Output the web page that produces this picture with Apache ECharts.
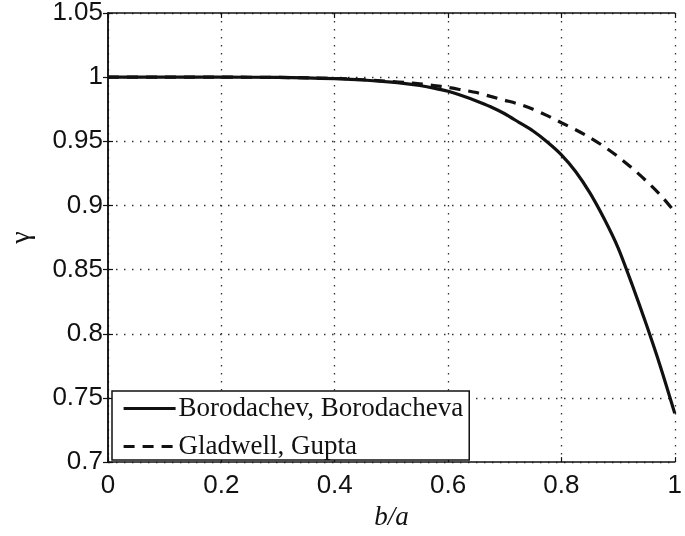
<!DOCTYPE html>
<html>
<head>
<meta charset="utf-8">
<script src="https://cdn.jsdelivr.net/npm/echarts@6/dist/echarts.min.js"></script>
<style>
html,body{margin:0;padding:0;background:#fff;}
#chart{width:685px;height:536px;}
</style>
</head>
<body>
<div id="chart"></div>
<script>
// b/a values
const xs = [0, 0.1, 0.2, 0.3, 0.35, 0.4, 0.45, 0.5, 0.525, 0.55, 0.575, 0.6, 0.625, 0.65, 0.675, 0.7, 0.725, 0.75, 0.775, 0.8, 0.825, 0.85, 0.875, 0.9, 0.925, 0.95, 0.975, 1.0];
// Borodachev, Borodacheva (solid)
const borodachev = [1, 1, 1, 0.9998, 0.9994, 0.9988, 0.9978, 0.9962, 0.995, 0.9935, 0.9915, 0.989, 0.9855, 0.9815, 0.977, 0.9715, 0.9648, 0.958, 0.9495, 0.9395, 0.9265, 0.910, 0.890, 0.867, 0.838, 0.807, 0.774, 0.738];
// Gladwell, Gupta (dashed)
const gladwell = [1, 1, 1, 0.9998, 0.9995, 0.999, 0.998, 0.9966, 0.9958, 0.9948, 0.9935, 0.992, 0.990, 0.988, 0.985, 0.982, 0.979, 0.975, 0.970, 0.9645, 0.959, 0.953, 0.946, 0.938, 0.929, 0.919, 0.908, 0.895];
const seriesNames = ['Borodachev, Borodacheva', 'Gladwell, Gupta'];
const xTickLabels = ['0', '0.2', '0.4', '0.6', '0.8', '1'];
const yTickLabels = ['0.7', '0.75', '0.8', '0.85', '0.9', '0.95', '1', '1.05'];

function nearestLabel(list, v) {
  let best = list[0], d = Infinity;
  list.forEach(s => { const dd = Math.abs(parseFloat(s) - v); if (dd < d) { d = dd; best = s; } });
  return best;
}

const ink = '#111';
const tickFont = { fontFamily: 'Liberation Sans, Arial, sans-serif', fontSize: 26, color: ink };
const axisLine = { show: true, lineStyle: { color: ink, width: 1.5 } };
const tickIn = { show: true, inside: true, length: 5, lineStyle: { color: ink, width: 1.2 } };
const dotted = { show: true, lineStyle: { color: '#333', width: 1.3, type: [1.5, 6.5] } };

const chart = echarts.init(document.getElementById('chart'), null, { renderer: 'canvas' });
chart.setOption({
  backgroundColor: '#fff',
  animation: false,
  grid: { left: 103, right: 7, top: 13, bottom: 68, containLabel: false },
  xAxis: [{
    type: 'value', min: 0, max: 1, interval: 0.2,
    name: 'b/a', nameLocation: 'middle', nameGap: 32,
    nameTextStyle: { fontFamily: 'Liberation Serif, Times New Roman, serif', fontStyle: 'italic', fontSize: 27, color: ink },
    axisLine: axisLine, axisTick: tickIn, splitLine: dotted,
    axisLabel: Object.assign({ margin: 11, formatter: v => nearestLabel(xTickLabels, v) }, tickFont)
  }, {
    type: 'value', min: 0, max: 1, interval: 0.2, position: 'top',
    axisLine: axisLine, axisTick: tickIn, splitLine: { show: false }, axisLabel: { show: false }
  }],
  yAxis: [{
    type: 'value', min: 0.7, max: 1.05, interval: 0.05,
    name: 'γ', nameLocation: 'middle', nameGap: 72,
    nameTextStyle: { fontFamily: 'Liberation Serif, Times New Roman, serif', fontSize: 28, color: ink },
    axisLine: axisLine, axisTick: tickIn, splitLine: dotted,
    axisLabel: Object.assign({ margin: 5, formatter: v => nearestLabel(yTickLabels, v) }, tickFont)
  }, {
    type: 'value', min: 0.7, max: 1.05, interval: 0.05, position: 'right',
    axisLine: axisLine, axisTick: tickIn, splitLine: { show: false }, axisLabel: { show: false }
  }],
  legend: {
    orient: 'vertical', left: 112, top: 391,
    padding: [4, 6, 0, 10], itemGap: 11, itemWidth: 52, itemHeight: 24,
    backgroundColor: '#fff', borderColor: ink, borderWidth: 1.5, borderRadius: 0,
    itemStyle: { opacity: 0 },
    lineStyle: { width: 3.2 },
    textStyle: { fontFamily: 'Liberation Serif, Times New Roman, serif', fontSize: 27, color: ink, padding: [0, 0, 0, -2] },
    data: seriesNames
  },
  series: [{
    name: seriesNames[0], type: 'line', xAxisIndex: 0, yAxisIndex: 0,
    data: xs.map((x, i) => [x, borodachev[i]]),
    symbol: 'none', smooth: 0.25,
    lineStyle: { color: ink, width: 3.2, type: 'solid' }, itemStyle: { color: ink }
  }, {
    name: seriesNames[1], type: 'line', xAxisIndex: 0, yAxisIndex: 0,
    data: xs.map((x, i) => [x, gladwell[i]]),
    symbol: 'none', smooth: 0.25,
    lineStyle: { color: ink, width: 3.2, type: [11, 8] }, itemStyle: { color: ink }
  }]
});
</script>
</body>
</html>
